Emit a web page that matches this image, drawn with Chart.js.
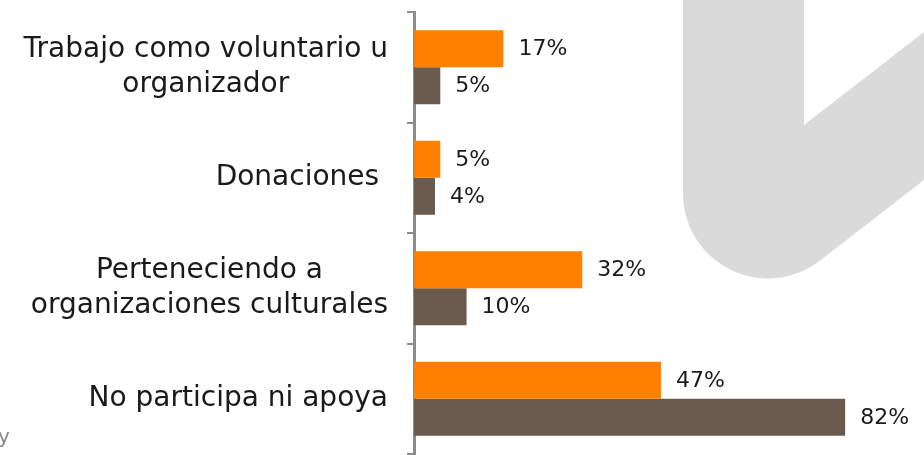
<!DOCTYPE html>
<html>
<head>
<meta charset="utf-8">
<script src="https://cdn.jsdelivr.net/npm/chart.js@4/dist/chart.umd.min.js"></script>
<style>
  html, body { margin: 0; padding: 0; background: #fff; }
  #wrap { width: 924px; height: 455px; }
</style>
</head>
<body>
<div id="wrap"><canvas id="chart" width="924" height="455"></canvas></div>
<script>
// categorías (cada una en líneas) y valores de las dos series
const categories = [
  ["Trabajo como voluntario u", "organizador"],
  ["Donaciones "],
  ["Perteneciendo a", "organizaciones culturales"],
  ["No participa ni apoya"]
];
const serieA = [17, 5, 32, 47];
const serieB = [5, 4, 10, 82];
const colorA = "#ff7f00";
const colorB = "#6b5b4e";

// marca de agua gris del fondo
const watermark = {
  id: "watermark",
  beforeDraw(chart) {
    const ctx = chart.ctx;
    ctx.save();
    ctx.fillStyle = "#dadada";
    ctx.beginPath();
    ctx.moveTo(683, 0);
    ctx.arcTo(683, 367, 924, 180, 85);
    ctx.lineTo(924, 180);
    ctx.lineTo(924, 32);
    ctx.lineTo(804, 125);
    ctx.lineTo(804, 0);
    ctx.closePath();
    ctx.fill();
    // resto de texto cortado abajo a la izquierda
    ctx.fillStyle = "#8a8a8a";
    ctx.font = "20px 'DejaVu Sans'";
    ctx.textBaseline = "alphabetic";
    ctx.fillText("y", -2, 443);
    ctx.restore();
  }
};

// etiquetas de categoría: bloque alineado a la derecha, líneas centradas
const catLabels = {
  id: "catLabels",
  afterDraw(chart) {
    const ctx = chart.ctx;
    const y = chart.scales.y;
    const right = chart.chartArea.left - 26;
    const lineH = 35;
    ctx.save();
    ctx.font = "28px 'DejaVu Sans'";
    ctx.fillStyle = "#1a1a1a";
    ctx.textAlign = "center";
    ctx.textBaseline = "middle";
    categories.forEach((lines, i) => {
      const w = Math.max(...lines.map(l => ctx.measureText(l).width));
      const cx = right - w / 2;
      const cy = y.getPixelForValue(i);
      const top = cy - (lines.length - 1) * lineH / 2;
      lines.forEach((l, k) => ctx.fillText(l, cx, top + k * lineH));
    });
    ctx.restore();
  }
};

// etiquetas de valor al final de cada barra
const valueLabels = {
  id: "valueLabels",
  afterDatasetsDraw(chart) {
    const ctx = chart.ctx;
    ctx.save();
    ctx.font = "22px 'DejaVu Sans'";
    ctx.fillStyle = "#1a1a1a";
    ctx.textAlign = "left";
    ctx.textBaseline = "middle";
    chart.data.datasets.forEach((ds, di) => {
      chart.getDatasetMeta(di).data.forEach((bar, i) => {
        ctx.fillText(ds.data[i] + "%", bar.x + 15, bar.y + 1);
      });
    });
    ctx.restore();
  }
};

new Chart(document.getElementById("chart"), {
  type: "bar",
  data: {
    labels: categories,
    datasets: [
      { data: serieA, backgroundColor: colorA },
      { data: serieB, backgroundColor: colorB }
    ]
  },
  options: {
    indexAxis: "y",
    responsive: false,
    animation: false,
    layout: { padding: { top: 12, bottom: 1, left: 0, right: 0 } },
    datasets: { bar: { categoryPercentage: 0.67, barPercentage: 1 } },
    scales: {
      x: { display: false, min: 0, max: 97 },
      y: {
        afterFit: scale => { scale.width = 414; },
        ticks: { display: false },
        grid: { drawOnChartArea: false, tickLength: 7, color: "#8c8c8c", lineWidth: 2 },
        border: { color: "#8c8c8c", width: 3 }
      }
    },
    plugins: { legend: { display: false }, tooltip: { enabled: false } }
  },
  plugins: [watermark, catLabels, valueLabels]
});
</script>
</body>
</html>
